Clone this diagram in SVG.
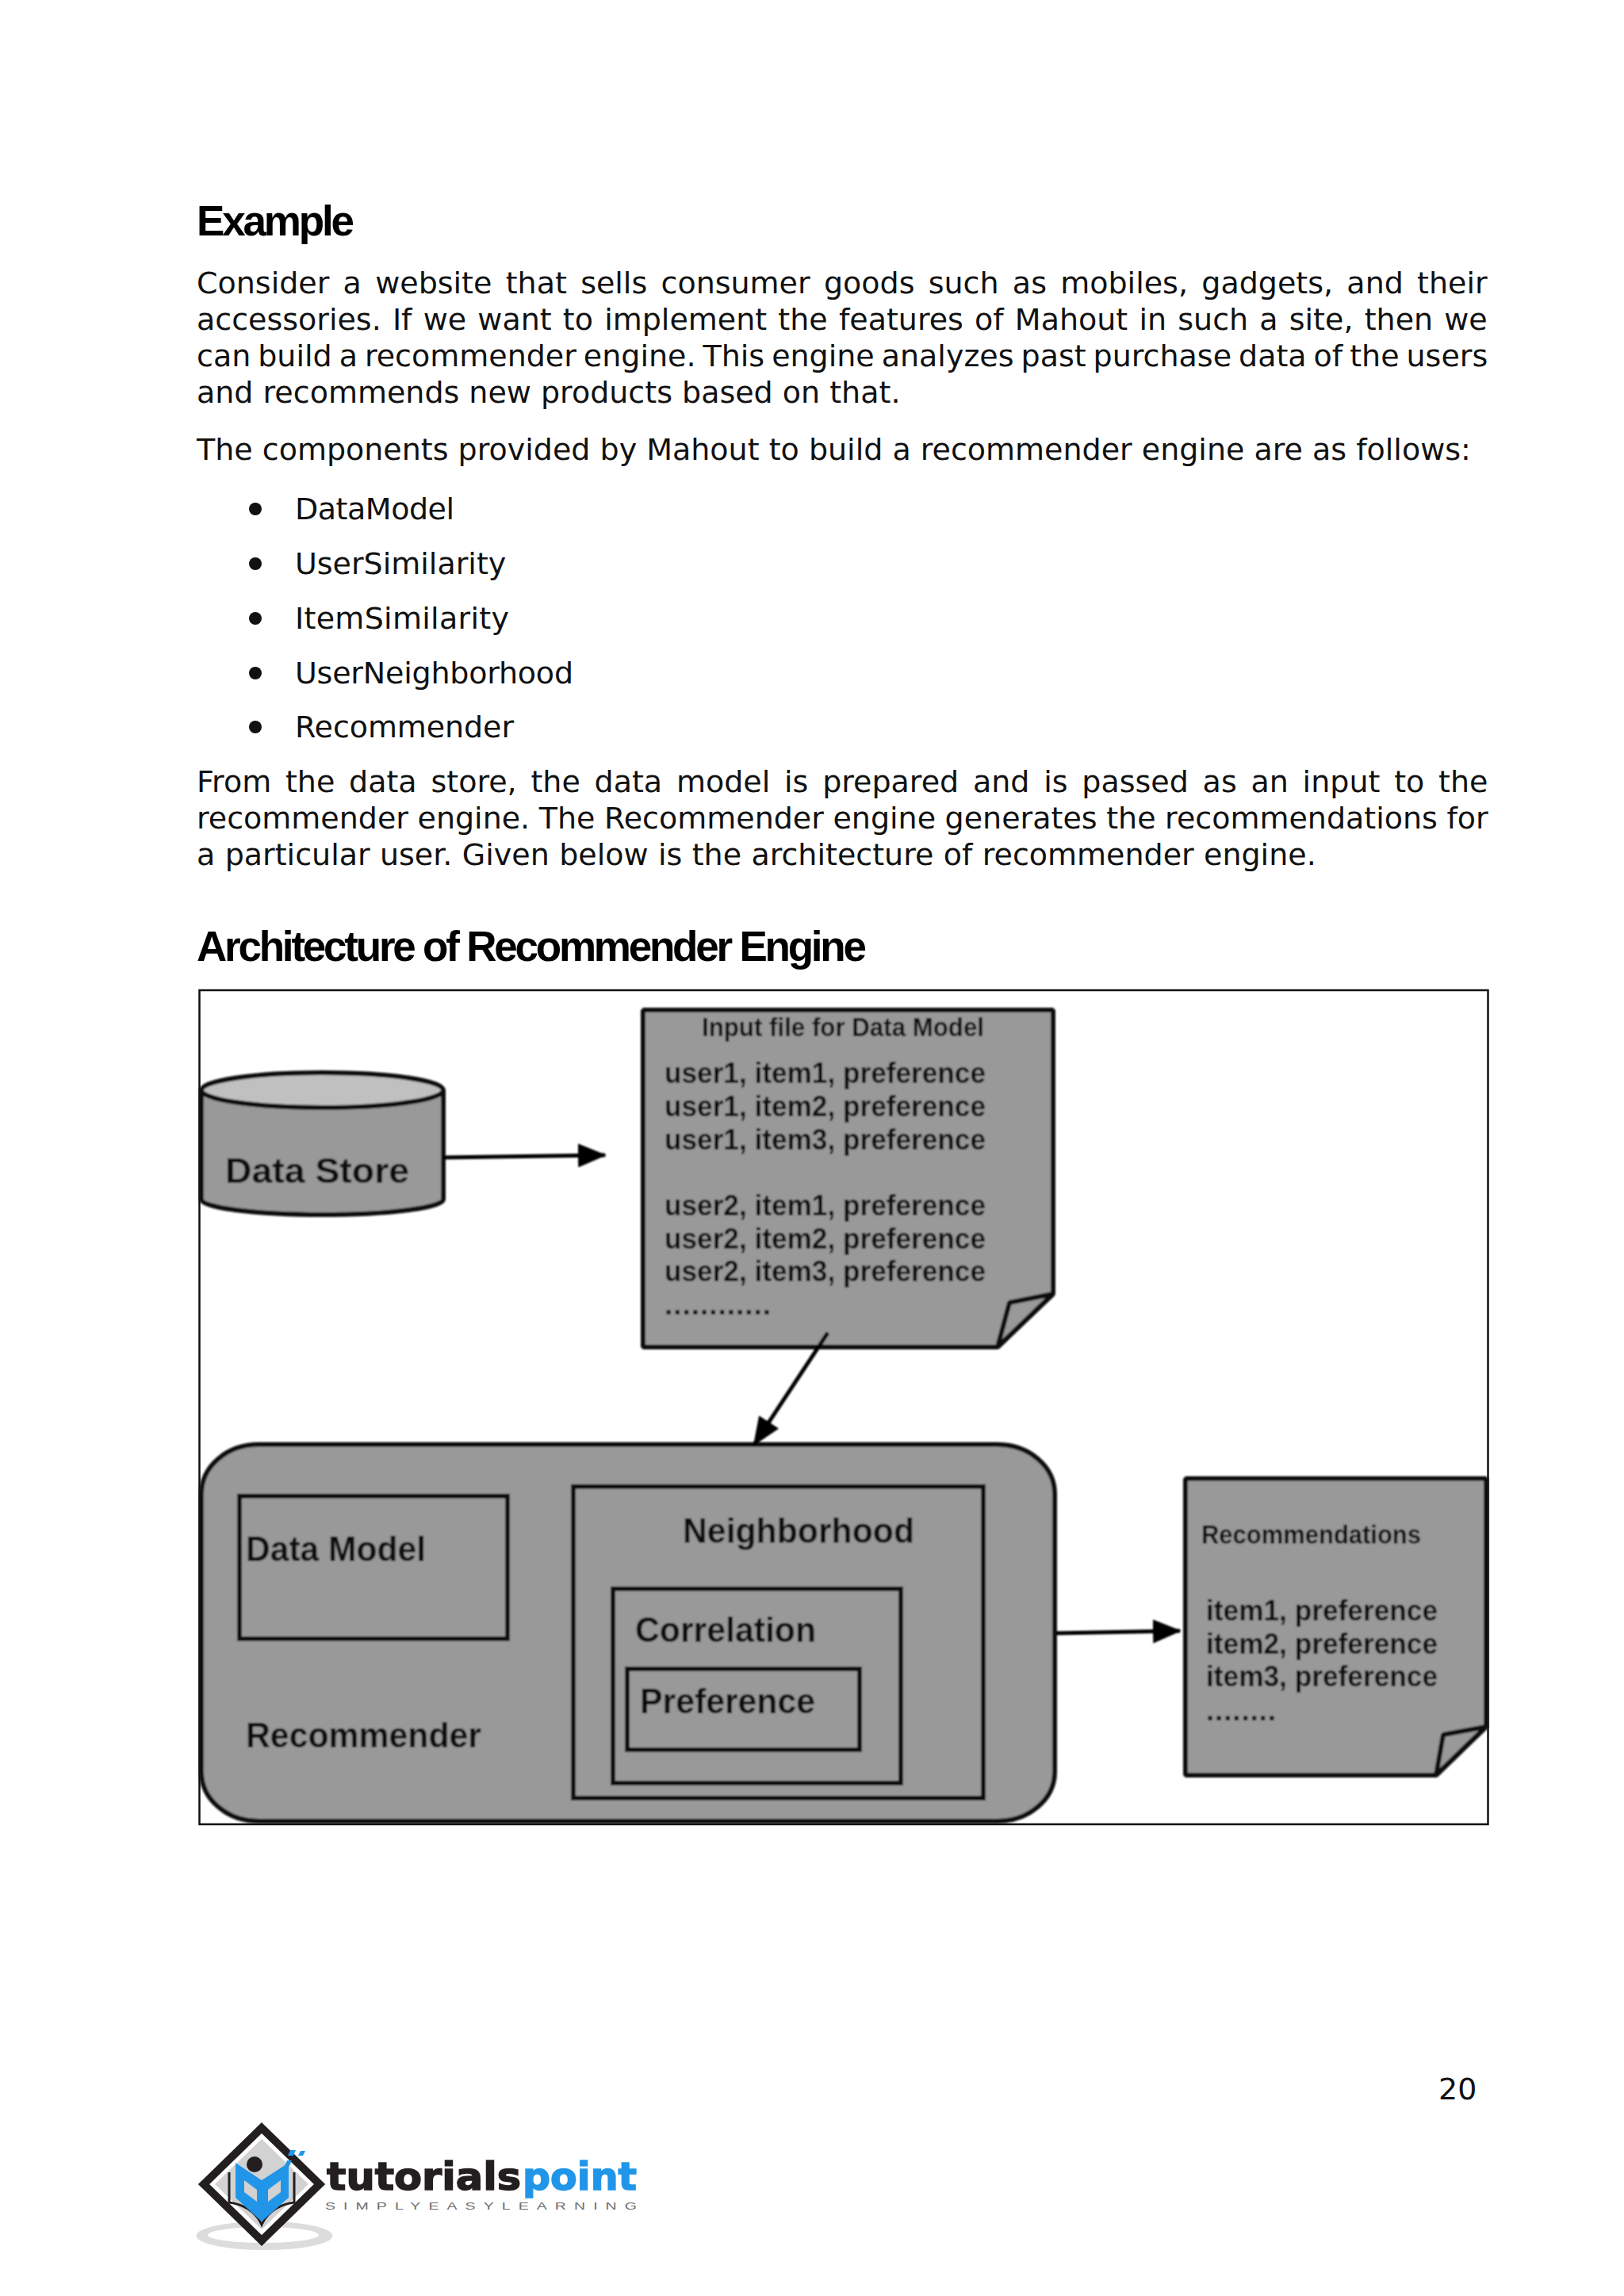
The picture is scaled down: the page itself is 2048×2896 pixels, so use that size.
<svg xmlns="http://www.w3.org/2000/svg" width="2048" height="2896" viewBox="0 0 2048 2896">
<style>
.b{font-family:"DejaVu Sans",Verdana,sans-serif;font-size:38px;fill:#111}
.h{font-family:"Liberation Sans",Arial,sans-serif;font-weight:700;font-size:53px;fill:#000}
.d{font-family:"Liberation Sans",Arial,sans-serif;font-weight:700;fill:#0c0c0c;font-size:44px}
.m{font-size:37px}.s{font-size:33px}
.sh{fill:#999;stroke:#111;stroke-width:6;stroke-linejoin:bevel}
.box{fill:none;stroke:#111;stroke-width:6}
.c{fill:none;stroke:#000;stroke-width:5}
</style>
<defs>
<filter id="soft" x="-5%" y="-5%" width="110%" height="110%"><feGaussianBlur stdDeviation="1"/></filter>
<marker id="a" markerUnits="userSpaceOnUse" markerWidth="36" markerHeight="30" refX="34" refY="15" orient="auto"><path d="M0 0L36 15L0 30Z" fill="#000"/></marker>
</defs>
<rect width="2048" height="2896" fill="#fff"/>
<g id="page-text">
<text class="h" x="248" y="297" textLength="199" lengthAdjust="spacing">Example</text>
<text class="b" x="248" y="370" word-spacing="5.2">Consider a website that sells consumer goods such as mobiles, gadgets, and their</text>
<text class="b" x="248" y="416" word-spacing="2.1">accessories. If we want to implement the features of Mahout in such a site, then we</text>
<text class="b" x="248" y="462" word-spacing="-3.1">can build a recommender engine. This engine analyzes past purchase data of the users</text>
<text class="b" x="248" y="508">and recommends new products based on that.</text>
<text class="b" x="248" y="580">The components provided by Mahout to build a recommender engine are as follows:</text>
<text class="b" x="372" y="655" textLength="201" lengthAdjust="spacing">DataModel</text>
<text class="b" x="372" y="724">UserSimilarity</text>
<text class="b" x="372" y="793" textLength="270" lengthAdjust="spacing">ItemSimilarity</text>
<text class="b" x="372" y="862" textLength="351" lengthAdjust="spacing">UserNeighborhood</text>
<text class="b" x="372" y="930" textLength="276" lengthAdjust="spacing">Recommender</text>
<circle cx="322" cy="642" r="8" fill="#111"/><circle cx="322" cy="711" r="8" fill="#111"/><circle cx="322" cy="780" r="8" fill="#111"/><circle cx="322" cy="849" r="8" fill="#111"/><circle cx="322" cy="917" r="8" fill="#111"/>
<text class="b" x="248" y="999" word-spacing="5.7">From the data store, the data model is prepared and is passed as an input to the</text>
<text class="b" x="248" y="1045" word-spacing="-0.5">recommender engine. The Recommender engine generates the recommendations for</text>
<text class="b" x="248" y="1091" word-spacing="0.3">a particular user. Given below is the architecture of recommender engine.</text>
<text class="h" x="248" y="1212" textLength="845" lengthAdjust="spacing">Architecture of Recommender Engine</text>
<text class="b" x="1814" y="2648">20</text>
</g>
<rect id="frame" x="251.500" y="1249" width="1625" height="1052" fill="#fff" stroke="#111" stroke-width="2.500"/>
<g filter="url(#soft)">
<g id="data-store">
<path class="sh" d="M254 1375V1513C254 1523 320 1532 406 1532S559 1523 559 1513V1375"/>
<ellipse cx="406.500" cy="1375" rx="152.500" ry="22" fill="#c0c0c0" stroke="#111" stroke-width="6"/>
<text class="d" x="284" y="1492" textLength="232" lengthAdjust="spacingAndGlyphs">Data Store</text>
</g>
<g id="input-file">
<path class="sh" d="M811 1274H1328V1632L1258 1699H811Z"/>
<path class="sh" d="M1258 1699L1273 1643L1328 1632Z" stroke-width="5"/>
<text class="d s" x="885" y="1307" textLength="356" lengthAdjust="spacingAndGlyphs">Input file for Data Model</text>
<g class="d m">
<text x="838" y="1366" textLength="405" lengthAdjust="spacingAndGlyphs">user1, item1, preference</text>
<text x="838" y="1408" textLength="405" lengthAdjust="spacingAndGlyphs">user1, item2, preference</text>
<text x="838" y="1450" textLength="405" lengthAdjust="spacingAndGlyphs">user1, item3, preference</text>
<text x="838" y="1533" textLength="405" lengthAdjust="spacingAndGlyphs">user2, item1, preference</text>
<text x="838" y="1575" textLength="405" lengthAdjust="spacingAndGlyphs">user2, item2, preference</text>
<text x="838" y="1616" textLength="405" lengthAdjust="spacingAndGlyphs">user2, item3, preference</text>
<text x="838" y="1658" textLength="134" lengthAdjust="spacing">............</text>
</g>
</g>
<g id="recommender">
<rect class="sh" x="254" y="1822" width="1076" height="475" rx="72" ry="62"/>
<text class="d" x="310" y="2204" textLength="297" lengthAdjust="spacingAndGlyphs">Recommender</text>
</g>
<g id="data-model">
<rect class="box" x="302" y="1887" width="338" height="180"/>
<text class="d" x="310" y="1969" textLength="227" lengthAdjust="spacingAndGlyphs">Data Model</text>
</g>
<g id="neighborhood">
<rect class="box" x="723" y="1875" width="517" height="393"/>
<text class="d" x="861" y="1946" textLength="292" lengthAdjust="spacingAndGlyphs">Neighborhood</text>
</g>
<g id="correlation">
<rect class="box" x="773" y="2004" width="363" height="245"/>
<text class="d" x="801" y="2071" textLength="228" lengthAdjust="spacingAndGlyphs">Correlation</text>
</g>
<g id="preference">
<rect class="box" x="791" y="2105" width="293" height="102"/>
<text class="d" x="807" y="2161" textLength="221" lengthAdjust="spacingAndGlyphs">Preference</text>
</g>
<g id="recommendations">
<path class="sh" d="M1495 1865H1874V2178L1811 2239H1495Z"/>
<path class="sh" d="M1811 2239L1820 2188L1874 2178Z" stroke-width="5"/>
<text class="d s" x="1515" y="1947" textLength="277" lengthAdjust="spacingAndGlyphs">Recommendations</text>
<g class="d m">
<text x="1521" y="2044" textLength="292" lengthAdjust="spacingAndGlyphs">item1, preference</text>
<text x="1521" y="2086" textLength="292" lengthAdjust="spacingAndGlyphs">item2, preference</text>
<text x="1521" y="2127" textLength="292" lengthAdjust="spacingAndGlyphs">item3, preference</text>
<text x="1521" y="2170" textLength="88" lengthAdjust="spacing">........</text>
</g>
</g>
<g id="connectors">
<path class="c" d="M559 1460L763 1457" marker-end="url(#a)"/>
<path class="c" d="M1044 1681L951 1822" marker-end="url(#a)"/>
<path class="c" d="M1332 2060L1488 2057" marker-end="url(#a)"/>
</g>
</g>
<g id="logo">
<ellipse cx="333.500" cy="2820" rx="86" ry="18" fill="#dcdcdc"/>
<ellipse cx="332" cy="2819" rx="70" ry="10" fill="#fff"/>
<path d="M330 2684L403 2755L330 2826L257 2755Z" fill="#fff" stroke="#231f20" stroke-width="10"/>
<path d="M330 2698L389 2755L330 2812L271 2755Z" fill="#d2d2d2"/>
<path d="M289 2740V2778C305 2780 322 2788 330 2806C338 2788 355 2780 371 2778V2740" fill="none" stroke="#231f20" stroke-width="3"/>
<path d="M297 2728L330 2750L364 2728V2772L330 2802L297 2772Z" fill="#2196e8"/>
<circle cx="321" cy="2730" r="10" fill="#231f20"/>
<path d="M308 2750L324 2762V2777L308 2765ZM354 2750L338 2762V2777L354 2765Z" fill="#d2d2d2"/>
<path d="M366 2712h7l-3 7h-7zM379 2713h6l-3 6h-6zM362 2725h6l-3 7h-6z" fill="#2196e8"/>
<text x="412" y="2762" font-family="DejaVu Sans, sans-serif" font-weight="700" font-size="48" fill="#231f20" stroke="#231f20" stroke-width="1.500" textLength="245" lengthAdjust="spacingAndGlyphs">tutorials</text>
<text x="659" y="2762" font-family="DejaVu Sans, sans-serif" font-weight="700" font-size="48" fill="#2196e8" stroke="#2196e8" stroke-width="1.500" textLength="144" lengthAdjust="spacingAndGlyphs">point</text>
<text transform="scale(1.5 1)" x="273.300" y="2787" font-family="Liberation Sans, sans-serif" font-size="13" fill="#6d6e71" textLength="262" lengthAdjust="spacing">SIMPLYEASYLEARNING</text>
</g>
</svg>
